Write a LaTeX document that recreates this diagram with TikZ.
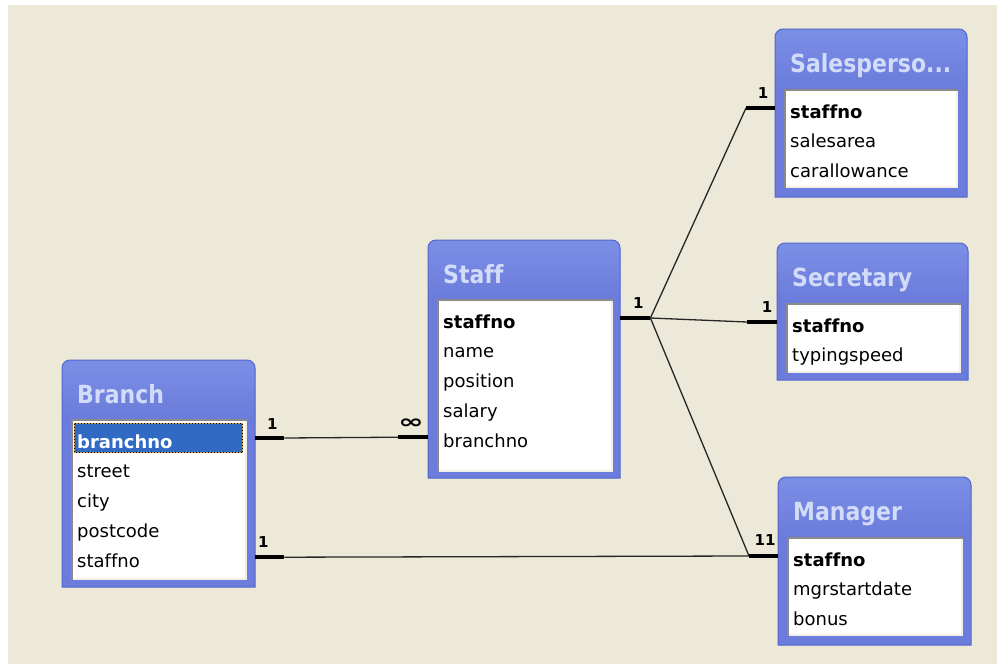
\documentclass[tikz,border=0pt]{standalone}
\usepackage{graphicx}
\usepackage{fontspec}
\setmainfont[Ligatures=NoCommon]{DejaVu Sans}
\newfontfamily\titlefont[FakeStretch=0.88,Ligatures=NoCommon]{DejaVu Sans}
\usetikzlibrary{calc}

\definecolor{desk}{HTML}{ECE9D8}
\definecolor{framebody}{HTML}{6B7CDC}
\definecolor{frameedge}{HTML}{5566CC}
\definecolor{bartop}{HTML}{7C8FE6}
\definecolor{barmid}{HTML}{88A3EE}
\definecolor{barbot}{HTML}{6A7BDA}
\definecolor{titleink}{HTML}{D2DCF8}
\definecolor{bevdark}{HTML}{8A8A8A}
\definecolor{bevlight}{HTML}{F1EFE6}
\definecolor{selblue}{HTML}{316AC5}
\definecolor{focusdot}{HTML}{C89A3C}

\tikzset{
  tabletitle/.style={anchor=base west, inner sep=0pt, text=titleink,
    font=\titlefont\bfseries\fontsize{25}{28}\selectfont},
  fieldtext/.style={anchor=base west, inner sep=0pt, font=\fontsize{18}{20}\selectfont},
  reltrunk/.style={line width=1.3pt, draw=black!85},
  relend/.style={line width=4.5pt, draw=black},
  cardlabel/.style={inner sep=0pt, font=\bfseries\fontsize{15}{16}\selectfont},
}

% window frame of a table: id, x0, y0, x1, y1, title
\newcommand\erdframe[6]{%
  \path[fill=framebody] (#2,#5) -- (#2,#3+8) .. controls (#2,#3+3.6) and (#2+3.6,#3) .. (#2+8,#3)
     -- (#4-8,#3) .. controls (#4-3.6,#3) and (#4,#3+3.6) .. (#4,#3+8) -- (#4,#5) -- cycle;
  \shade[top color=bartop, middle color=barmid, bottom color=barbot]
     (#2,#3+60) -- (#2,#3+8) .. controls (#2,#3+3.6) and (#2+3.6,#3) .. (#2+8,#3)
     -- (#4-8,#3) .. controls (#4-3.6,#3) and (#4,#3+3.6) .. (#4,#3+8) -- (#4,#3+60) -- cycle;
  \draw[frameedge, line width=1pt] (#2,#5) -- (#2,#3+8) .. controls (#2,#3+3.6) and (#2+3.6,#3) .. (#2+8,#3)
     -- (#4-8,#3) .. controls (#4-3.6,#3) and (#4,#3+3.6) .. (#4,#3+8) -- (#4,#5) -- cycle;
  \node[inner sep=0pt, minimum width={#4-#2}, minimum height={#5-#3}, anchor=north west] (#1) at (#2,#3) {};
  \node[tabletitle] (#1-title) at (#2+15,#3+43) {#6};
}

% sunken white list box: x0, y0, x1, y1
\newcommand\erdwell[4]{%
  \fill[bevdark] (#1,#2) rectangle (#3,#4);
  \fill[bevlight] (#1+2,#2+2) rectangle (#3,#4);
  \fill[white] (#1+2,#2+2) rectangle (#3-2,#4-2);
}

% field rows: id, list x0, list top, entries
\newcommand\erdfields[4]{%
  \foreach \f [count=\k from 0] in {#4} {
    \node[fieldtext] (#1-\k) at (#2+6,#3+29+29.8*\k) {\f};
    \coordinate (#1-\k-y) at (0,#3+19+29.8*\k);
  }
}

\begin{document}
\begin{tikzpicture}[x=1pt,y=-1pt]
\useasboundingbox (0,0) rectangle (997,664);
\fill[white] (0,0) rectangle (997,664);
\fill[desk] (8,5) rectangle (997,664);

% Branch
\erdframe{branch}{62}{360}{255}{587}{Branch}
\erdwell{71}{419}{247}{580}
\fill[selblue] (74,423) rectangle (243,453);
\draw[focusdot, line width=1pt] (74.5,423.5) rectangle (242.5,452.5);
\draw[black, line width=1pt, dotted] (74.5,423.5) rectangle (242.5,452.5);
\erdfields{branch}{71}{419}{{\color{white}\bfseries branchno},street,city,postcode,staffno}

% Staff
\erdframe{staff}{428}{240}{620}{478}{Staff}
\erdwell{437}{299}{613}{472}
\erdfields{staff}{437}{299}{{\bfseries staffno},name,position,salary,branchno}

% Salesperson
\erdframe{salesp}{775}{29}{967}{197}{Salesperso...}
\erdwell{784}{89}{958}{188}
\erdfields{salesp}{784}{89}{{\bfseries staffno},salesarea,carallowance}

% Secretary
\erdframe{secr}{777}{243}{968}{380}{Secretary}
\erdwell{786}{303}{961}{373}
\erdfields{secr}{786}{303}{{\bfseries staffno},typingspeed}

% Manager
\erdframe{mgr}{778}{477}{971}{645}{Manager}
\erdwell{787}{537}{963}{636}
\erdfields{mgr}{787}{537}{{\bfseries staffno},mgrstartdate,bonus}

% relationship ports on the table edges
\coordinate (bp1) at (branch.east |- branch-0-y);
\coordinate (bp2) at (branch.east |- branch-4-y);
\coordinate (sp1) at (staff.west |- staff-4-y);
\coordinate (sp0) at (staff.east |- staff-0-y);
\coordinate (slp) at (salesp.west |- salesp-0-y);
\coordinate (scp) at (secr.west |- secr-0-y);
\coordinate (mgp) at (mgr.west |- mgr-0-y);

\path (bp1) ++(29,0) coordinate (bp1e);
\path (bp2) ++(29,0) coordinate (bp2e);
\path (sp1) ++(-30,0) coordinate (sp1e);
\path (sp0) ++(30,0) coordinate (hub);
\path (slp) ++(-29,0) coordinate (slpe);
\path (scp) ++(-30,0) coordinate (scpe);
\path (mgp) ++(-29,0) coordinate (mgpe);

% connector lines
\draw[reltrunk] (bp1e) -- (sp1e);
\draw[reltrunk] (bp2e) -- (mgpe);
\draw[reltrunk] (hub) -- (slpe);
\draw[reltrunk] (hub) -- (scpe);
\draw[reltrunk] (hub) -- (mgpe);

\draw[relend] (bp1) -- (bp1e);
\draw[relend] (bp2) -- (bp2e);
\draw[relend] (sp1) -- (sp1e);
\draw[relend] (sp0) -- (hub);
\draw[relend] (slp) -- (slpe);
\draw[relend] (scp) -- (scpe);
\draw[relend] (mgp) -- (mgpe);

% cardinalities
\node[cardlabel] (c-b1) at ($(bp1)+(17,-14)$) {1};
\node[cardlabel] (c-b2) at ($(bp2)+(8,-15)$) {1};
\node[cardlabel] (c-sinf) at ($(sp1)+(-17,-14)$) {\fontsize{19}{20}\selectfont\scalebox{1.6}[1]{∞}};
\node[cardlabel] (c-s0) at ($(sp0)+(18,-15)$) {1};
\node[cardlabel] (c-sl) at ($(slp)+(-12,-15)$) {1};
\node[cardlabel] (c-sc) at ($(scp)+(-10,-15)$) {1};
\node[cardlabel] (c-mg) at ($(mgp)+(-13,-16)$) {11};
\end{tikzpicture}
\end{document}
